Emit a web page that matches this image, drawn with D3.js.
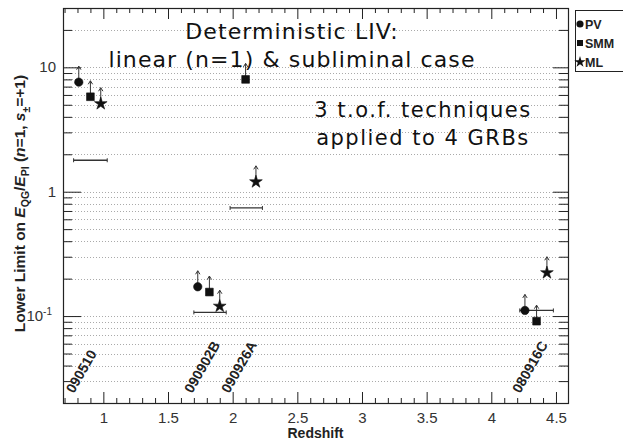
<!DOCTYPE html>
<html>
<head>
<meta charset="utf-8">
<script src="https://cdn.jsdelivr.net/npm/d3@7"></script>
<style>
  body { margin: 0; background: #fff; }
  svg { display: block; }
</style>
</head>
<body>
<div id="chart"></div>
<script>
'use strict';

// lower limits [redshift, E_QG/E_Pl] for each time-of-flight technique
const pvPoints = [[0.81, 7.6], [1.73, 0.172], [4.26, 0.111]];
const smmPoints = [[0.90, 5.8], [1.82, 0.156], [2.10, 8.0], [4.35, 0.091]];
const mlPoints = [[0.98, 5.1], [1.90, 0.12], [2.18, 1.2], [4.43, 0.223]];

// horizontal bars [z from, z to, level]
const barSegments = [[0.77, 1.03, 1.79], [1.70, 1.95, 0.107], [1.98, 2.23, 0.74], [4.22, 4.48, 0.111]];

const grbNames = ['090510', '090902B', '090926A', '080916C'];
const grbLabelZ = [0.74, 1.655, 1.94, 4.19];

const xMajorTicks = [1, 1.5, 2, 2.5, 3, 3.5, 4, 4.5];
const yMajorTicks = [0.1, 1, 10];
const yMajorLabels = [['10', '-1'], ['1', ''], ['10', '']];
const legendNames = ['PV', 'SMM', 'ML'];

const W = 623, H = 445;
const margin = {left: 63, top: 8, right: 55, bottom: 42};

const svg = d3.select('#chart').append('svg')
    .attr('width', W)
    .attr('height', H);

const x = d3.scaleLinear()
    .domain([0.688, 4.593])
    .range([margin.left, W - margin.right]);
const y = d3.scaleLog()
    .domain([0.02, 30])
    .range([H - margin.bottom, margin.top]);

const x0 = x.range()[0], x1 = x.range()[1];
const y0 = y.range()[0], y1 = y.range()[1];

// dotted grid at every log tick
const allY = y.ticks().filter(d => d > 0.02 && d < 30);
svg.append('g').selectAll('line')
    .data(allY)
    .join('line')
    .attr('x1', x0).attr('x2', x1)
    .attr('y1', d => Math.round(y(d)) + 0.5)
    .attr('y2', d => Math.round(y(d)) + 0.5)
    .attr('stroke', '#aaa')
    .attr('stroke-dasharray', '1,2');

// x axis ticks bottom and top
const xMinor = d3.range(7, 46).map(d => d / 10).filter(d => !xMajorTicks.includes(d));
function tickAxis(g, axis) {
    g.call(axis);
    g.select('.domain').remove();
    g.selectAll('line').attr('stroke', '#222');
}
svg.append('g').attr('transform', `translate(0,${y0})`)
    .call(g => tickAxis(g, d3.axisBottom(x).tickValues(xMinor).tickSize(-5).tickFormat('')));
svg.append('g').attr('transform', `translate(0,${y0})`)
    .call(g => tickAxis(g, d3.axisBottom(x).tickValues(xMajorTicks).tickSize(-11).tickPadding(9)
        .tickFormat(d3.format('~g'))))
    .selectAll('text')
    .attr('font-family', 'Liberation Sans, Arial, sans-serif')
    .attr('font-size', 15)
    .attr('fill', '#333');
svg.append('g').attr('transform', `translate(0,${y1})`)
    .call(g => tickAxis(g, d3.axisTop(x).tickValues(xMinor).tickSize(-5).tickFormat('')));
svg.append('g').attr('transform', `translate(0,${y1})`)
    .call(g => tickAxis(g, d3.axisTop(x).tickValues(xMajorTicks).tickSize(-11).tickFormat('')));

// y axis ticks left and right
const yMinor = allY.filter(d => !yMajorTicks.includes(d));
svg.append('g').attr('transform', `translate(${x0},0)`)
    .call(g => tickAxis(g, d3.axisLeft(y).tickValues(yMinor).tickSize(-9).tickFormat('')));
svg.append('g').attr('transform', `translate(${x0},0)`)
    .call(g => tickAxis(g, d3.axisLeft(y).tickValues(yMajorTicks).tickSize(-18).tickFormat('')));
svg.append('g').attr('transform', `translate(${x1},0)`)
    .call(g => tickAxis(g, d3.axisRight(y).tickValues(yMinor).tickSize(-9).tickFormat('')));
svg.append('g').attr('transform', `translate(${x1},0)`)
    .call(g => tickAxis(g, d3.axisRight(y).tickValues(yMajorTicks).tickSize(-15).tickFormat('')));

// y tick labels with exponent
const yl = svg.append('g').selectAll('text')
    .data(yMajorTicks)
    .join('text')
    .attr('x', (d, i) => yMajorLabels[i][1] ? x0 - 11 : x0 - 7)
    .attr('y', d => y(d) + 5)
    .attr('text-anchor', 'end')
    .attr('font-family', 'Liberation Sans, Arial, sans-serif')
    .attr('font-size', 15)
    .attr('fill', '#333');
yl.append('tspan').text((d, i) => yMajorLabels[i][0]);
yl.append('tspan').attr('dy', -6).attr('font-size', 10).text((d, i) => yMajorLabels[i][1]);

// frame
svg.append('rect')
    .attr('x', x0 + 0.5).attr('y', y1 + 0.5)
    .attr('width', x1 - x0).attr('height', y0 - y1)
    .attr('fill', 'none')
    .attr('stroke', '#222')
    .attr('stroke-width', 1.2);

// bars with small end caps
const bars = svg.append('g').attr('stroke', '#333').attr('stroke-width', 1.3);
bars.selectAll('line.bar')
    .data(barSegments)
    .join('line')
    .attr('class', 'bar')
    .attr('x1', d => x(d[0])).attr('x2', d => x(d[1]))
    .attr('y1', d => y(d[2])).attr('y2', d => y(d[2]));
bars.selectAll('path')
    .data(barSegments)
    .join('path')
    .attr('fill', 'none')
    .attr('stroke-width', 1)
    .attr('d', d => {
        const a = x(d[0]), b = x(d[1]), c = y(d[2]);
        return `M${a},${c - 2}V${c + 2}M${b},${c - 2}V${c + 2}`;
    });

// arrows for lower limits
const allPoints = pvPoints.concat(smmPoints, mlPoints);
const arrows = svg.append('g').attr('stroke', '#333').attr('fill', 'none').attr('stroke-width', 1);
arrows.selectAll('line')
    .data(allPoints)
    .join('line')
    .attr('x1', d => x(d[0])).attr('x2', d => x(d[0]))
    .attr('y1', d => y(d[1]))
    .attr('y2', d => y(d[1]) - 16);
arrows.selectAll('path')
    .data(allPoints)
    .join('path')
    .attr('d', d => {
        const px = x(d[0]), py = y(d[1]) - 16;
        return `M${px - 2.2},${py + 3.5}L${px},${py}L${px + 2.2},${py + 3.5}`;
    });

// markers
const symCircle = d3.symbol(d3.symbolCircle, 55);
const symSquare = d3.symbol(d3.symbolSquare, 60);
const symStar = d3.symbol(d3.symbolStar, 50);
const markers = [[pvPoints, symCircle], [smmPoints, symSquare], [mlPoints, symStar]];
markers.forEach(([pts, sym]) => {
    svg.append('g').selectAll('path')
        .data(pts)
        .join('path')
        .attr('transform', d => `translate(${x(d[0])},${y(d[1])})`)
        .attr('d', sym)
        .attr('fill', '#111')
        .attr('stroke', '#111')
        .attr('stroke-width', 0.6)
        .attr('stroke-linejoin', 'round');
});

// GRB names
svg.append('g').selectAll('text')
    .data(grbNames)
    .join('text')
    .attr('transform', (d, i) => `translate(${x(grbLabelZ[i]) + 4},${y0 - 9}) rotate(-60)`)
    .attr('font-family', 'Liberation Sans, Arial, sans-serif')
    .attr('font-weight', 'bold')
    .attr('font-size', 14)
    .attr('fill', '#222')
    .text(d => d);

// annotations
const note = svg.append('g')
    .attr('font-family', 'DejaVu Sans, Verdana, sans-serif')
    .attr('fill', '#111')
    .attr('text-anchor', 'middle');
const head = note.append('g').attr('font-size', 22).attr('letter-spacing', 1.1);
head.append('text').attr('x', 292).attr('y', 39).text('Deterministic LIV:');
head.append('text').attr('x', 292).attr('y', 67).text('linear (n=1) & subliminal case');
const sub = note.append('g').attr('font-size', 21).attr('letter-spacing', 1.5);
sub.append('text').attr('x', 423).attr('y', 117).text('3 t.o.f. techniques');
sub.append('text').attr('x', 423).attr('y', 145).text('applied to 4 GRBs');

// axis titles
svg.append('text')
    .attr('x', (x0 + x1) / 2)
    .attr('y', 438)
    .attr('text-anchor', 'middle')
    .attr('font-family', 'Liberation Sans, Arial, sans-serif')
    .attr('font-weight', 'bold')
    .attr('font-size', 14)
    .attr('fill', '#222')
    .text('Redshift');

const yt = svg.append('text')
    .attr('transform', `translate(25,${(y0 + y1) / 2 - 2}) rotate(-90)`)
    .attr('text-anchor', 'middle')
    .attr('font-family', 'Liberation Sans, Arial, sans-serif')
    .attr('font-weight', 'bold')
    .attr('font-size', 15.5)
    .attr('fill', '#222');
yt.append('tspan').text('Lower Limit on ');
yt.append('tspan').attr('font-style', 'italic').text('E');
yt.append('tspan').attr('dy', 4).attr('font-size', 10.5).text('QG');
yt.append('tspan').attr('dy', -4).text('/');
yt.append('tspan').attr('font-style', 'italic').text('E');
yt.append('tspan').attr('dy', 4).attr('font-size', 10.5).text('Pl');
yt.append('tspan').attr('dy', -4).text(' (');
yt.append('tspan').attr('font-style', 'italic').text('n');
yt.append('tspan').text('=1, ');
yt.append('tspan').attr('font-style', 'italic').text('s');
yt.append('tspan').attr('dy', 5).attr('font-size', 10.5).text('±');
yt.append('tspan').attr('dy', -5).text('=+1)');

// legend
const lg = svg.append('g').attr('transform', 'translate(575,10)');
lg.append('rect')
    .attr('x', 0.5).attr('y', 0.5)
    .attr('width', 60).attr('height', 61)
    .attr('fill', '#fff')
    .attr('stroke', '#222');
const legendSyms = [d3.symbol(d3.symbolCircle, 40), d3.symbol(d3.symbolSquare, 36), d3.symbol(d3.symbolStar, 40)];
legendNames.forEach((name, i) => {
    const row = lg.append('g').attr('transform', `translate(0,${14 + i * 19})`);
    row.append('path')
        .attr('transform', 'translate(5,0)')
        .attr('d', legendSyms[i])
        .attr('fill', '#111');
    row.append('text')
        .attr('x', 10).attr('y', 4.5)
        .attr('font-family', 'Liberation Sans, Arial, sans-serif')
        .attr('font-weight', 'bold')
        .attr('font-size', 12.5)
        .attr('fill', '#222')
        .text(name);
});
</script>
</body>
</html>
